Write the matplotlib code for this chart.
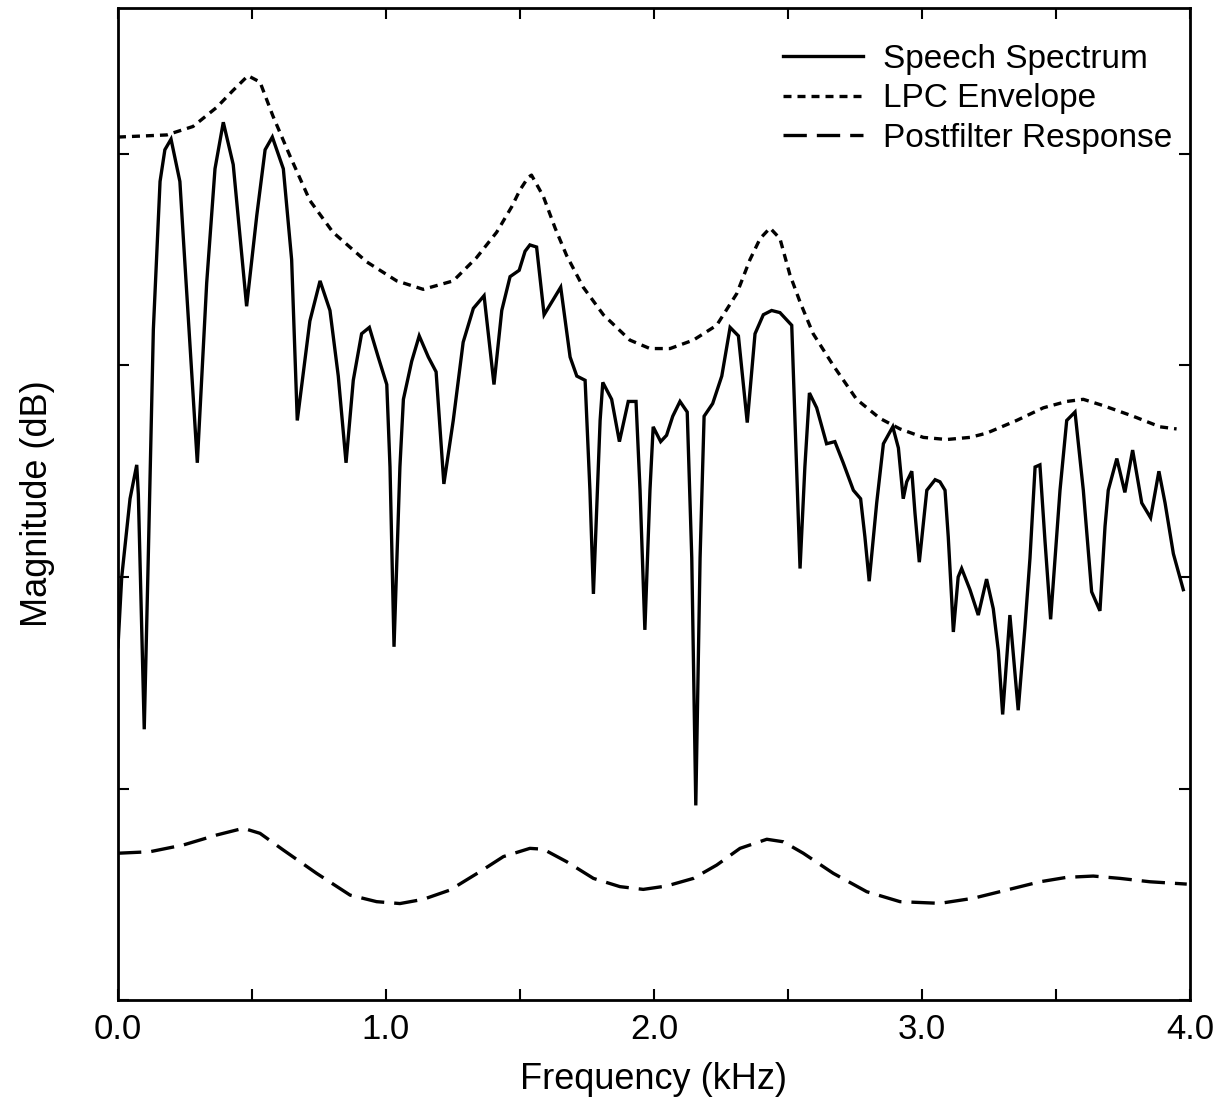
import matplotlib
matplotlib.use("Agg")
import matplotlib.pyplot as plt
from matplotlib.ticker import MultipleLocator, FixedLocator, FixedFormatter

plt.rcParams['font.family'] = ['Liberation Sans', 'DejaVu Sans']

# Speech spectrum (kHz, dB)
spec_f = [0.0, 0.014, 0.045, 0.070, 0.076, 0.098, 0.113, 0.132, 0.157, 0.175, 0.198, 0.231, 0.244,
          0.296, 0.331, 0.362, 0.393, 0.430, 0.480, 0.518, 0.549, 0.576, 0.617, 0.648, 0.669,
          0.716, 0.754, 0.791, 0.822, 0.851, 0.878, 0.909, 0.938, 0.971, 1.003, 1.015, 1.030,
          1.052, 1.065, 1.096, 1.124, 1.158, 1.187, 1.216, 1.251, 1.288, 1.326, 1.366, 1.403,
          1.432, 1.463, 1.497, 1.519, 1.537, 1.562, 1.590, 1.652, 1.687, 1.712, 1.743, 1.761,
          1.774, 1.799, 1.809, 1.842, 1.871, 1.904, 1.933, 1.948, 1.966, 1.985, 1.997, 2.025,
          2.047, 2.070, 2.097, 2.124, 2.141, 2.156, 2.172, 2.187, 2.219, 2.253, 2.284, 2.315,
          2.348, 2.377, 2.408, 2.439, 2.470, 2.514, 2.526, 2.545, 2.563, 2.580, 2.607, 2.644,
          2.675, 2.706, 2.744, 2.771, 2.787, 2.803, 2.831, 2.856, 2.891, 2.912, 2.930, 2.943,
          2.962, 2.974, 2.990, 3.018, 3.049, 3.067, 3.086, 3.098, 3.111, 3.117, 3.135, 3.148,
          3.179, 3.210, 3.241, 3.266, 3.285, 3.301, 3.328, 3.359, 3.384, 3.403, 3.422, 3.440,
          3.459, 3.480, 3.515, 3.540, 3.571, 3.602, 3.633, 3.664, 3.683, 3.695, 3.727, 3.757,
          3.786, 3.820, 3.853, 3.884, 3.907, 3.938, 3.975]
spec_db = [16.7, 20.0, 23.7, 25.3, 23.9, 12.8, 20.9, 31.7, 38.7, 40.2, 40.7, 38.7, 36.0,
           25.4, 33.9, 39.3, 41.5, 39.5, 32.8, 37.1, 40.2, 40.8, 39.3, 35.0, 27.4,
           32.1, 34.0, 32.6, 29.5, 25.4, 29.3, 31.5, 31.8, 30.4, 29.1, 25.2, 16.7,
           25.2, 28.4, 30.2, 31.4, 30.4, 29.7, 24.4, 27.4, 31.1, 32.7, 33.3, 29.1,
           32.6, 34.2, 34.5, 35.4, 35.7, 35.6, 32.4, 33.7, 30.4, 29.5, 29.3, 24.1,
           19.2, 27.4, 29.2, 28.4, 26.4, 28.3, 28.3, 24.1, 17.5, 24.1, 27.1, 26.4,
           26.7, 27.6, 28.3, 27.8, 20.9, 9.2, 20.9, 27.6, 28.2, 29.5, 31.8, 31.4,
           27.3, 31.5, 32.4, 32.6, 32.5, 31.9, 27.4, 20.4, 25.2, 28.7, 28.0, 26.3,
           26.4, 25.4, 24.1, 23.7, 21.9, 19.8, 23.5, 26.3, 27.1, 26.1, 23.7, 24.5,
           25.0, 23.0, 20.7, 24.1, 24.6, 24.5, 24.1, 21.9, 18.9, 17.4, 20.0, 20.4,
           19.4, 18.2, 19.9, 18.5, 16.5, 13.5, 18.2, 13.7, 17.6, 20.9, 25.2, 25.3,
           21.7, 18.0, 24.1, 27.4, 27.8, 24.1, 19.3, 18.4, 22.4, 24.1, 25.6, 24.0,
           26.0, 23.5, 22.8, 25.0, 23.5, 21.1, 19.4]

# LPC envelope
lpc_f = [0.0, 0.182, 0.280, 0.368, 0.429, 0.485, 0.530, 0.578, 0.642, 0.716, 0.802, 0.928,
         1.040, 1.139, 1.251, 1.338, 1.413, 1.469, 1.500, 1.531, 1.543, 1.587, 1.631, 1.674,
         1.736, 1.811, 1.910, 1.985, 2.060, 2.147, 2.234, 2.309, 2.358, 2.396, 2.433, 2.470,
         2.507, 2.545, 2.594, 2.669, 2.756, 2.843, 2.918, 3.005, 3.092, 3.179, 3.241, 3.353,
         3.453, 3.540, 3.602, 3.677, 3.788, 3.888, 3.950]
lpc_db = [40.8, 40.9, 41.3, 42.2, 43.0, 43.7, 43.4, 41.8, 39.9, 37.8, 36.3, 34.9,
          34.0, 33.6, 34.0, 35.1, 36.3, 37.5, 38.3, 38.9, 39.0, 38.0, 36.5, 35.2,
          33.7, 32.4, 31.2, 30.8, 30.8, 31.2, 31.9, 33.4, 35.0, 36.0, 36.5, 36.0,
          34.3, 33.0, 31.5, 30.0, 28.4, 27.5, 27.0, 26.6, 26.5, 26.6, 26.8, 27.4,
          28.0, 28.3, 28.4, 28.1, 27.6, 27.1, 27.0]

# Postfilter response
pf_f = [0.0, 0.119, 0.244, 0.368, 0.468, 0.530, 0.617, 0.741, 0.866, 0.965, 1.052, 1.139,
        1.239, 1.351, 1.438, 1.537, 1.587, 1.674, 1.774, 1.873, 1.960, 2.047, 2.147, 2.234,
        2.321, 2.421, 2.483, 2.557, 2.669, 2.794, 2.918, 3.067, 3.191, 3.316, 3.440, 3.540,
        3.639, 3.739, 3.851, 3.988]
pf_db = [6.94, 7.01, 7.33, 7.80, 8.12, 7.88, 7.09, 5.99, 4.96, 4.65, 4.56, 4.76,
         5.20, 6.07, 6.78, 7.17, 7.13, 6.54, 5.75, 5.36, 5.23, 5.39, 5.75, 6.38,
         7.17, 7.60, 7.48, 6.94, 5.99, 5.12, 4.65, 4.57, 4.81, 5.20, 5.59, 5.80,
         5.86, 5.75, 5.59, 5.48]

labels = ["Speech Spectrum", "LPC Envelope", "Postfilter Response"]
xtick_vals = [0.0, 1.0, 2.0, 3.0, 4.0]
xtick_labels = ["0.0", "1.0", "2.0", "3.0", "4.0"]

fig = plt.figure(figsize=(12.2, 11.0), dpi=100)
ax = fig.add_axes([0.0967, 0.0909, 0.8787, 0.9018])

ax.plot(spec_f, spec_db, color='black', lw=2.4, solid_joinstyle='miter', label=labels[0])
ax.plot(lpc_f, lpc_db, color='black', lw=2.4, dashes=(2.4, 1.8), label=labels[1])
ax.plot(pf_f, pf_db, color='black', lw=2.4, dashes=(7.0, 3.0), label=labels[2])

ax.set_xlim(0, 4.0)
ax.set_ylim(0, 46.9)
ax.xaxis.set_major_locator(FixedLocator(xtick_vals))
ax.xaxis.set_major_formatter(FixedFormatter(xtick_labels))
ax.xaxis.set_minor_locator(MultipleLocator(0.5))
ax.yaxis.set_major_locator(MultipleLocator(10))
ax.set_yticklabels([])
ax.tick_params(axis='both', which='both', direction='in', top=True, right=True,
               length=8, width=1.5, labelsize=25, pad=9)
ax.tick_params(axis='y', which='both', labelleft=False)
for s in ax.spines.values():
    s.set_linewidth(2.0)

ax.set_xlabel("Frequency (kHz)", fontsize=26, labelpad=12)
ax.set_ylabel("Magnitude (dB)", fontsize=26, labelpad=45)

leg = ax.legend(loc='upper right', frameon=False, fontsize=24, handlelength=2.4,
                handletextpad=0.6, labelspacing=0.25, borderaxespad=0.5,
                bbox_to_anchor=(1.011, 0.994))

fig.savefig("out.png", dpi=100, facecolor='white')
